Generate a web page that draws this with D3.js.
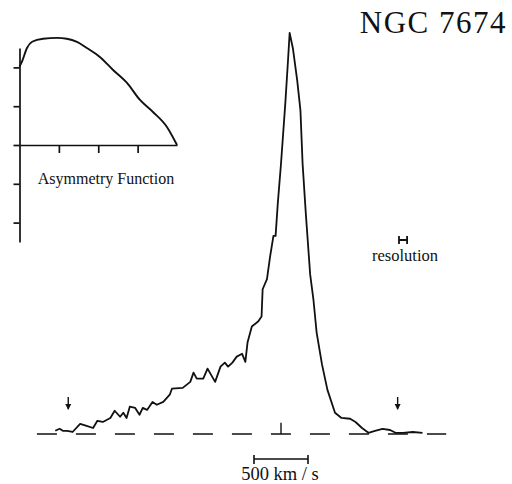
<!DOCTYPE html>
<html>
  <head>
    <meta charset="utf-8"/>
    <title>NGC 7674</title>
    <script src="https://cdnjs.cloudflare.com/ajax/libs/d3/7.8.5/d3.min.js"></script>
    <style>
      body { margin: 0; background: #fff; }
      text { font-family: "Liberation Serif", "Times New Roman", serif; fill: #111; }
      .ink { fill: none; stroke: #111; }
      .axis path, .axis line { stroke: #111; stroke-width: 1.7px; }
    </style>
  </head>
  <body>
    <script>

      // spectrum: velocity (km/s, relative) and flux (peak = 100)
      var velocity = [-2090, -2050, -2020, -1980, -1930, -1860, -1800, -1740, -1700, -1650,
        -1580, -1540, -1490, -1460, -1430, -1400, -1350, -1310, -1280, -1240,
        -1190, -1150, -1090, -1030, -1010, -910, -840, -810, -780, -720,
        -680, -610, -560, -520, -490, -450, -410, -360, -330, -310,
        -270, -210, -180, -170, -130, -100, -70, -50, -30, 0,
        40, 65, 80, 110, 150, 180, 200, 230, 270, 300,
        330, 380, 430, 500, 560, 640, 690, 750, 810, 870,
        940, 1010, 1060, 1130, 1220, 1310];
      var flux = [0.8, 1.3, 0.8, 0.8, 0.5, 2.5, 2.0, 1.5, 3.3, 3.0,
        4.0, 5.8, 4.3, 5.3, 4.0, 6.8, 6.5, 4.8, 6.5, 6.0,
        8.0, 7.3, 8.0, 9.8, 11.3, 11.5, 13.0, 15.3, 13.8, 13.8,
        16.3, 13.0, 16.8, 17.8, 16.8, 17.8, 19.3, 20.0, 18.0, 22.8,
        26.8, 28.1, 29.3, 36.1, 38.6, 44.4, 49.4, 49.4, 57.4, 67.4,
        82.5, 93.2, 100, 96.2, 88.2, 80.7, 67.4, 54.9, 39.8, 33.6,
        25.3, 17.3, 11.0, 5.3, 4.0, 3.8, 3.0, 1.5, 0.3, 0.8,
        1.3, 1.0, 0.3, 0.3, 0.5, 0.3];

      var baselineRange = [-2260, 1530];
      var arrowVelocity = [-1970, 1080];
      var resolutionWidth = 75;
      var scaleBarWidth = 500;

      // inset: asymmetry function
      var asymX = [0, 0.06, 0.19, 0.32, 0.6, 0.95, 1.2, 1.46, 1.71, 2.04, 2.37, 2.73, 3.06, 3.39, 3.74, 4.0];
      var asymY = [2.02, 2.14, 2.5, 2.66, 2.74, 2.76, 2.74, 2.66, 2.5, 2.27, 1.94, 1.6, 1.16, 0.85, 0.47, 0];
      var asymYTicks = [-2, -1, 0, 1, 2];
      var asymXTicks = [1, 2, 3];

      var svg = d3.select("body").append("svg")
        .attr("width", 512)
        .attr("height", 484);

      var x = d3.scaleLinear().domain([-2000, 1500]).range([65, 443]);
      var y = d3.scaleLinear().domain([0, 100]).range([434, 33]);

      // dashed zero line
      svg.append("line").attr("class", "ink")
        .attr("x1", x(baselineRange[0])).attr("x2", x(baselineRange[1]))
        .attr("y1", y(0)).attr("y2", y(0))
        .attr("stroke-width", 1.7)
        .attr("stroke-dasharray", "20,19");

      // small tick at zero velocity
      svg.append("line").attr("class", "ink")
        .attr("x1", x(0)).attr("x2", x(0))
        .attr("y1", y(0)).attr("y2", y(2.8))
        .attr("stroke-width", 1.4);

      var spectrum = velocity.map(function (v, i){ return [v, flux[i]]; });
      var line = d3.line()
        .x(function (d){ return x(d[0]); })
        .y(function (d){ return y(d[1]); });

      svg.append("path").attr("class", "ink")
        .attr("d", line(spectrum))
        .attr("stroke-width", 1.8)
        .attr("stroke-linejoin", "round");

      // arrows marking the line wings
      arrowVelocity.forEach(function (v){
        var ax = x(v);
        svg.append("line").attr("class", "ink")
          .attr("x1", ax).attr("x2", ax)
          .attr("y1", 397).attr("y2", 409)
          .attr("stroke-width", 1.4);
        svg.append("path")
          .attr("d", "M" + (ax - 3) + ",404 L" + (ax + 3) + ",404 L" + ax + ",410 Z")
          .attr("fill", "#111");
      });

      // resolution marker
      var rx0 = x(1130 - resolutionWidth / 2), rx1 = x(1130 + resolutionWidth / 2);
      svg.append("path").attr("class", "ink")
        .attr("d", "M" + rx0 + ",236 V244 M" + rx0 + ",240 H" + rx1 + " M" + rx1 + ",236 V244")
        .attr("stroke-width", 1.8);
      svg.append("text")
        .attr("x", 405).attr("y", 261)
        .attr("text-anchor", "middle")
        .attr("font-size", 16.5)
        .text("resolution");

      // velocity scale bar
      var sx0 = x(-scaleBarWidth / 2), sx1 = x(scaleBarWidth / 2);
      svg.append("path").attr("class", "ink")
        .attr("d", "M" + sx0 + ",455 V464 M" + sx0 + ",459 H" + sx1 + " M" + sx1 + ",455 V464")
        .attr("stroke-width", 1.6);
      svg.append("text")
        .attr("x", 280).attr("y", 480)
        .attr("text-anchor", "middle")
        .attr("font-size", 18.5)
        .text("500 km / s");

      // title
      svg.append("text")
        .attr("x", 507).attr("y", 33)
        .attr("text-anchor", "end")
        .attr("font-size", 31)
        .attr("letter-spacing", 1.5)
        .text("NGC 7674");

      // inset
      var xIn = d3.scaleLinear().domain([0, 4]).range([19.5, 177]);
      var yIn = d3.scaleLinear().domain([-2.5, 2.5]).range([242, 48]);

      svg.append("g").attr("class", "axis")
        .attr("transform", "translate(" + xIn(0) + ",0)")
        .call(d3.axisLeft(yIn).tickValues(asymYTicks).tickSize(6).tickSizeOuter(0).tickFormat(""));

      svg.append("g").attr("class", "axis")
        .attr("transform", "translate(0," + yIn(0) + ")")
        .call(d3.axisBottom(xIn).tickValues(asymXTicks).tickSize(8).tickSizeOuter(0).tickFormat(""));

      var asym = asymX.map(function (v, i){ return [v, asymY[i]]; });
      svg.append("path").attr("class", "ink")
        .attr("d", d3.line()
          .x(function (d){ return xIn(d[0]); })
          .y(function (d){ return yIn(d[1]); })
          .curve(d3.curveMonotoneX)(asym))
        .attr("stroke-width", 1.9);

      svg.append("text")
        .attr("x", 106).attr("y", 184)
        .attr("text-anchor", "middle")
        .attr("font-size", 16)
        .text("Asymmetry Function");

    </script>
  </body>
</html>
